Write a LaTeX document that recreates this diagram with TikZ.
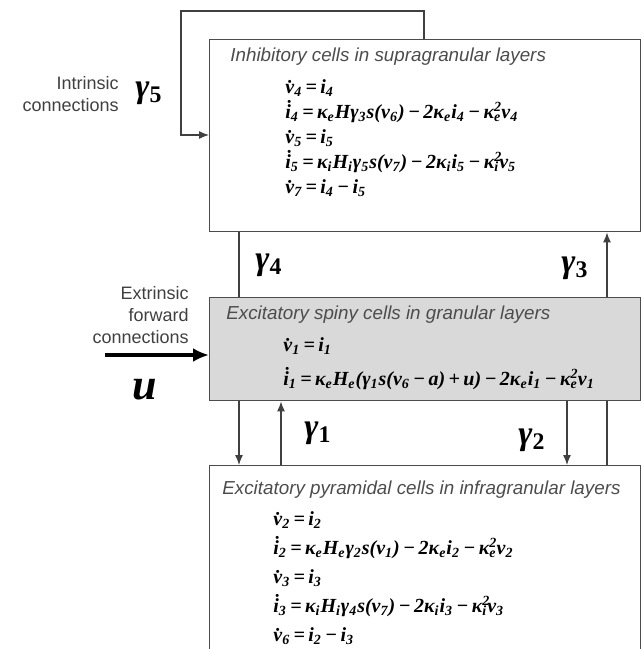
\documentclass[tikz,border=0pt]{standalone}
\usepackage{fontspec}
\setmainfont{Liberation Sans}
\newfontfamily\eqfont{Liberation Serif}
\usetikzlibrary{arrows.meta}
\tikzset{
  box/.style={draw=black!70, line width=0.7pt, minimum width=215.5pt, anchor=north west, inner sep=0pt},
  link/.style={draw=black!75, line width=0.6pt},
  arr/.style={link, -{Latex[length=5pt,width=4pt]}},
  title/.style={font=\fontsize{9.4}{11}\selectfont\itshape, text=black!70, anchor=west, inner sep=0pt},
  eqs/.style={align=left, anchor=north west, inner sep=0pt},
  side/.style={font=\fontsize{9}{11.2}\selectfont, text=black!75, align=right, anchor=east, inner sep=0pt},
  gain/.style={font=\eqfont\bfseries\itshape\fontsize{17}{17}\selectfont, inner sep=0pt},
}
\newcommand{\lo}[1]{\textsubscript{#1}}
\newcommand{\lohi}[2]{\rlap{\textsuperscript{#2}}\textsubscript{#1}}
\newcommand{\eqs}{\,=\,}
\newcommand{\mns}{\,−\,}
\begin{document}
\begin{tikzpicture}[x=0.5pt,y=-0.5pt]
\useasboundingbox (0,0) rectangle (643,649);
% the three populations
\node[box, minimum height=96pt] (inhib) at (209,39) {};
\node[box, minimum height=51.5pt, fill=black!15] (spiny) at (209,297) {};
\node[box, minimum height=120pt] (pyram) at (209,465) {};
\node[title] (tinhib) at (230,57) {Inhibitory cells in supragranular layers};
\node[title] (tspiny) at (226,315) {Excitatory spiny cells in granular layers};
\node[title] (tpyram) at (222,490) {Excitatory pyramidal cells in infragranular layers};
% state equations
\node[eqs, font=\eqfont\bfseries\itshape\fontsize{10}{12.5}\selectfont] (einhib) at (285,79) {%
\.{v}\lo{4}\eqs i\lo{4}\\
\.{i}\lo{4}\eqs κ\lo{e}Hγ\lo{3}s(v\lo{6})\mns 2κ\lo{e}i\lo{4}\mns κ\lohi{e}{2}v\lo{4}\\
\.{v}\lo{5}\eqs i\lo{5}\\
\.{i}\lo{5}\eqs κ\lo{i}H\lo{i}γ\lo{5}s(v\lo{7})\mns 2κ\lo{i}i\lo{5}\mns κ\lohi{i}{2}v\lo{5}\\
\.{v}\lo{7}\eqs i\lo{4}\mns i\lo{5}};
\node[eqs, font=\eqfont\bfseries\itshape\fontsize{10}{17}\selectfont] (espiny) at (283,337) {%
\.{v}\lo{1}\eqs i\lo{1}\\
\.{i}\lo{1}\eqs κ\lo{e}H\lo{e}(γ\lo{1}s(v\lo{6}\mns a)\,+\,u)\mns 2κ\lo{e}i\lo{1}\mns κ\lohi{e}{2}v\lo{1}};
\node[eqs, font=\eqfont\bfseries\itshape\fontsize{10}{14.5}\selectfont] (epyram) at (273,511) {%
\.{v}\lo{2}\eqs i\lo{2}\\
\.{i}\lo{2}\eqs κ\lo{e}H\lo{e}γ\lo{2}s(v\lo{1})\mns 2κ\lo{e}i\lo{2}\mns κ\lohi{e}{2}v\lo{2}\\
\.{v}\lo{3}\eqs i\lo{3}\\
\.{i}\lo{3}\eqs κ\lo{i}H\lo{i}γ\lo{4}s(v\lo{7})\mns 2κ\lo{i}i\lo{3}\mns κ\lohi{i}{2}v\lo{3}\\
\.{v}\lo{6}\eqs i\lo{2}\mns i\lo{3}};
% intrinsic connections
\draw[arr] ([xshift=107.5pt]inhib.north west) -- ++(0,-28) -- ++(-243,0) |- ([yshift=-48pt]inhib.north west);
\draw[link] ([xshift=15pt]inhib.south west) -- ([xshift=15pt]spiny.north west);
\draw[arr] ([xshift=15pt]spiny.south west) -- ([xshift=15pt]pyram.north west);
\draw[arr] ([xshift=36pt]pyram.north west) -- ([xshift=36pt]spiny.south west);
\draw[arr] ([xshift=179pt]spiny.south west) -- ([xshift=179pt]pyram.north west);
\draw[link] ([xshift=199pt]pyram.north west) -- ([xshift=199pt]spiny.south west);
\draw[arr] ([xshift=199pt]spiny.north west) -- ([xshift=199pt]inhib.south west);
\node[side] (intr) at (119,94) {Intrinsic\\connections};
\node[gain] (g5) at (149,93) {γ\lo{\upshape 5}};
\node[gain] (g4) at (269,265) {γ\lo{\upshape 4}};
\node[gain] (g3) at (575,268) {γ\lo{\upshape 3}};
\node[gain] (g1) at (318,433) {γ\lo{\upshape 1}};
\node[gain] (g2) at (532,440) {γ\lo{\upshape 2}};
% extrinsic input
\node[side] (extr) at (189,315) {Extrinsic\\forward\\connections};
\coordinate (uin) at (105,355);
\draw[line width=2pt, -{Latex[length=8pt,width=7pt]}] (uin) -- (spiny.west |- uin);
\node[font=\eqfont\bfseries\itshape\fontsize{22}{22}\selectfont] (u) at (145,390) {u};
\end{tikzpicture}
\end{document}
